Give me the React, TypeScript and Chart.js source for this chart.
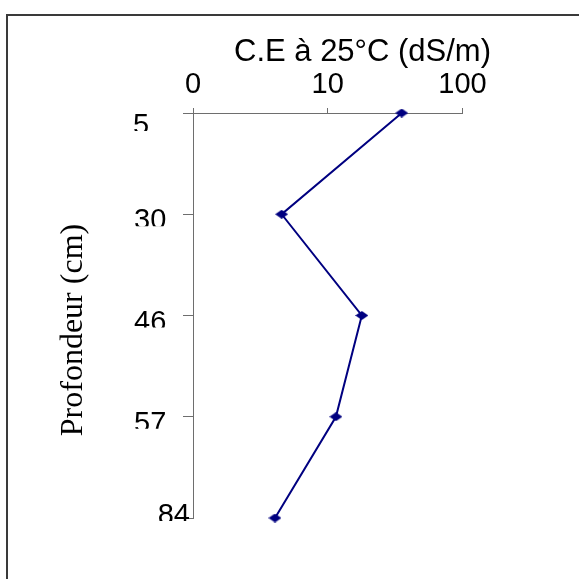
import { useEffect, useRef } from "react";
import { Chart, registerables } from "chart.js";

Chart.register(...registerables);

// Depth categories (cm) and electrical conductivity at 25 °C (dS/m)
const depthLabels = ["5", "30", "46", "57", "84"];
const conductivity = [35.4, 4.55, 17.9, 11.5, 4.06];

// Log axis ticks and the text printed at each
const xTickValues = [1, 10, 100];
const xTickLabels = ["0", "10", "100"];

const xTitle = "C.E à 25°C (dS/m)";
const yTitle = "Profondeur (cm)";

const NAVY = "#000080";
const AXIS = "#6e6e6e";
const SANS = "'Liberation Sans', Arial, sans-serif";
const SERIF = "'Liberation Serif', 'Times New Roman', serif";

function makeDiamond(w: number, h: number, color: string) {
  const c = document.createElement("canvas");
  c.width = w;
  c.height = h;
  const ctx = c.getContext("2d")!;
  ctx.fillStyle = color;
  ctx.beginPath();
  ctx.moveTo(w / 2, 0);
  ctx.lineTo(w, h / 2);
  ctx.lineTo(w / 2, h);
  ctx.lineTo(0, h / 2);
  ctx.closePath();
  ctx.fill();
  return c;
}

// Outer frame, axis titles and the depth labels beside the vertical axis
const decorPlugin = {
  id: "decor",
  beforeDraw(chart: any) {
    const ctx = chart.ctx;
    ctx.save();
    ctx.fillStyle = "#ffffff";
    ctx.fillRect(0, 0, chart.width, chart.height);
    ctx.strokeStyle = "#3a3a3a";
    ctx.lineWidth = 2;
    ctx.strokeRect(7, 15, chart.width + 40, chart.height + 40);
    ctx.restore();
  },
  afterDraw(chart: any) {
    const ctx = chart.ctx;
    const area = chart.chartArea;
    ctx.save();
    ctx.fillStyle = "#000000";

    ctx.font = `31px ${SANS}`;
    ctx.textAlign = "center";
    ctx.textBaseline = "alphabetic";
    ctx.fillText(xTitle, 362.5, 61);

    ctx.save();
    ctx.translate(82, 330);
    ctx.rotate(-Math.PI / 2);
    ctx.font = `32px ${SERIF}`;
    ctx.textAlign = "center";
    ctx.fillText(yTitle, 0, 0);
    ctx.restore();

    const ys = chart.scales.y;
    const last = depthLabels.length - 1;
    ctx.font = `29px ${SANS}`;
    depthLabels.forEach((lab, i) => {
      const py = ys.getPixelForTick(i);
      let baseline: number;
      let x: number;
      let align: CanvasTextAlign;
      if (i === 0) {
        baseline = py + 21;
        x = area.left - 60;
        align = "left";
      } else if (i === last) {
        baseline = py + 6;
        x = area.left - 3;
        align = "right";
      } else {
        baseline = py + 15;
        x = area.left - 59;
        align = "left";
      }
      ctx.save();
      ctx.beginPath();
      ctx.rect(0, baseline - 40, area.left, 37);
      ctx.clip();
      ctx.textAlign = align;
      ctx.fillText(lab, x, baseline);
      ctx.restore();
    });
    ctx.restore();
  },
};

export default function App() {
  const canvasRef = useRef<HTMLCanvasElement | null>(null);

  useEffect(() => {
    const canvas = canvasRef.current;
    if (!canvas) return;
    const diamond = makeDiamond(13, 9, NAVY);
    const chart = new Chart(canvas, {
      type: "line",
      data: {
        labels: depthLabels,
        datasets: [
          {
            data: conductivity,
            borderColor: NAVY,
            backgroundColor: NAVY,
            borderWidth: 2,
            pointStyle: diamond as any,
            pointRadius: 6,
            tension: 0,
            clip: false as any,
          },
        ],
      },
      options: {
        indexAxis: "y",
        responsive: false,
        animation: false,
        layout: { padding: { left: 0, top: 0, right: 116.5, bottom: 61 } },
        plugins: {
          legend: { display: false },
          tooltip: { enabled: false },
        },
        scales: {
          x: {
            type: "logarithmic",
            position: "top",
            min: 1,
            max: 100,
            afterBuildTicks: (s: any) => {
              s.ticks = xTickValues.map((v) => ({ value: v }));
            },
            afterFit: (s: any) => {
              s.height = 113;
            },
            ticks: {
              callback: (_v: any, i: number) => xTickLabels[i],
              font: { family: SANS, size: 29 },
              color: "#000000",
              padding: 6,
              maxRotation: 0,
              autoSkip: false,
            },
            grid: { drawOnChartArea: false, tickLength: 5, color: AXIS },
            border: { color: AXIS, width: 1 },
          },
          y: {
            type: "category",
            offset: false,
            afterFit: (s: any) => {
              s.width = 193;
            },
            ticks: { display: false },
            grid: { drawOnChartArea: false, tickLength: 10, color: AXIS },
            border: { color: AXIS, width: 1 },
          },
        },
      } as any,
      plugins: [decorPlugin],
    });
    return () => chart.destroy();
  }, []);

  return (
    <div style={{ position: "absolute", left: 0, top: 0, width: 579, height: 579 }}>
      <canvas ref={canvasRef} width={579} height={579} style={{ display: "block" }} />
    </div>
  );
}
